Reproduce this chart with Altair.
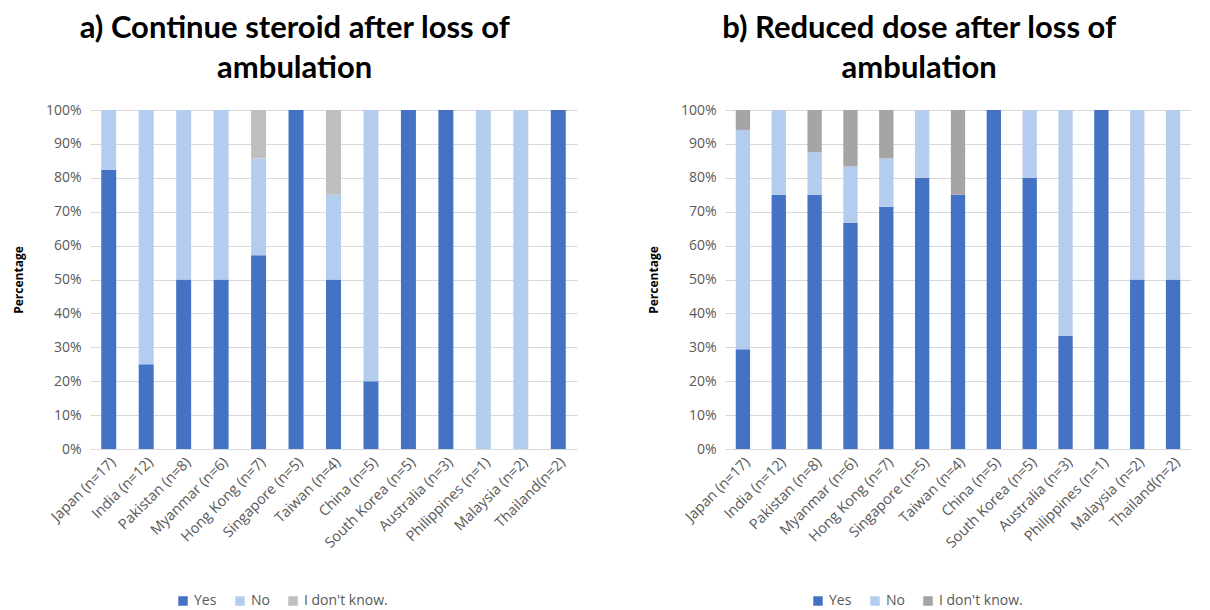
import altair as alt
import pandas as pd

countries = ["Japan (n=17)", "India (n=12)", "Pakistan (n=8)", "Myanmar (n=6)",
             "Hong Kong (n=7)", "Singapore (n=5)", "Taiwan (n=4)", "China (n=5)",
             "South Korea (n=5)", "Australia (n=3)", "Philippines (n=1)",
             "Malaysia (n=2)", "Thailand(n=2)"]
responses = ["Yes", "No", "I don't know."]

# a) Continue steroid after loss of ambulation (percent)
a_yes = [82.35, 25, 50, 50, 57.14, 100, 50, 20, 100, 100, 0, 0, 100]
a_no = [17.65, 75, 50, 50, 28.57, 0, 25, 80, 0, 0, 100, 100, 0]
a_idk = [0, 0, 0, 0, 14.29, 0, 25, 0, 0, 0, 0, 0, 0]

# b) Reduced dose after loss of ambulation (percent)
b_yes = [29.41, 75, 75, 66.67, 71.43, 80, 75, 100, 80, 33.33, 100, 50, 50]
b_no = [64.71, 25, 12.5, 16.67, 14.29, 20, 0, 0, 20, 66.67, 0, 50, 50]
b_idk = [5.88, 0, 12.5, 16.67, 14.29, 0, 25, 0, 0, 0, 0, 0, 0]


def build(yes, no, idk):
    rows = []
    for i, c in enumerate(countries):
        for k, (r, v) in enumerate(zip(responses, [yes[i], no[i], idk[i]])):
            rows.append({"country": c, "response": r, "value": v, "idx": k})
    return pd.DataFrame(rows)


def panel(df, title, colors, width):
    return alt.Chart(df).mark_bar().encode(
        x=alt.X("country:N", sort=countries,
                scale=alt.Scale(paddingInner=0.6, paddingOuter=0.3),
                axis=alt.Axis(title=None, labelAngle=-45, labelFontSize=14.5,
                              labelColor="#595959", labelFont="Open Sans",
                              ticks=False, domainColor="#D9D9D9", labelPadding=6,
                              labelOverlap=False)),
        y=alt.Y("value:Q", stack="zero",
                scale=alt.Scale(domain=[0, 100], nice=False),
                axis=alt.Axis(title="Percentage", titleFontSize=12, titleFont="Open Sans",
                              titleFontWeight="bold", titleColor="#000000",
                              titlePadding=20,
                              values=list(range(0, 101, 10)),
                              labelExpr="datum.value + '%'",
                              labelFontSize=14, labelColor="#595959", labelFont="Open Sans",
                              labelPadding=9, ticks=False, domain=False,
                              gridColor="#D9D9D9")),
        color=alt.Color("response:N", sort=responses,
                        scale=alt.Scale(domain=responses, range=colors),
                        legend=alt.Legend(title=None, orient="none", direction="horizontal",
                                          legendX=86, legendY=484,
                                          symbolType="square", symbolSize=90,
                                          symbolStrokeWidth=0,
                                          labelFontSize=14, labelColor="#595959",
                                          labelFont="Open Sans", columnPadding=16)),
        order=alt.Order("idx:Q", sort="ascending"),
    ).properties(
        width=width, height=339,
        title=alt.TitleParams(title, fontSize=31, font="Lato", fontWeight="bold",
                              color="#000000", anchor="middle", frame="bounds",
                              offset=18, lineHeight=40),
    )


left = panel(build(a_yes, a_no, a_idk),
             ["a) Continue steroid after loss of", "ambulation"],
             ["#4472C4", "#B4CDEE", "#BFBFBF"], 487)
right = panel(build(b_yes, b_no, b_idk),
              ["b) Reduced dose after loss of", "ambulation"],
              ["#4472C4", "#B4CDEE", "#A5A5A5"], 466)

chart = alt.hconcat(left, right, spacing=70).resolve_scale(color="independent").configure(
    padding={"top": 5, "left": 4, "right": 0, "bottom": 0}, background="white"
).configure_view(stroke=None)

chart.save("out.html", embed_options={"renderer": "svg", "actions": False})
